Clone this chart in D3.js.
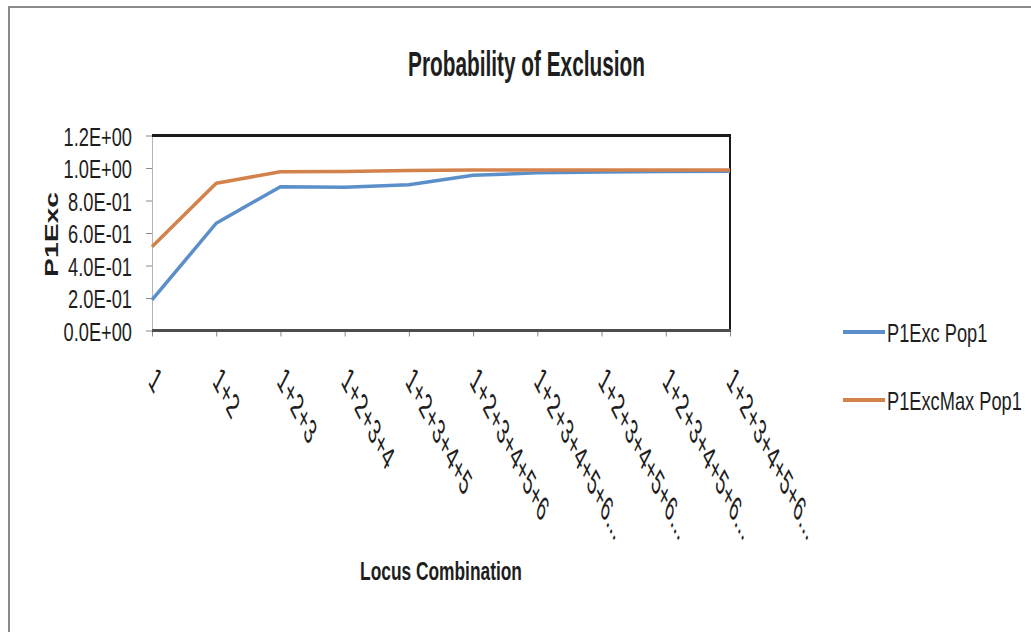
<!DOCTYPE html>
<html>
<head>
<meta charset="utf-8">
<script src="https://cdn.jsdelivr.net/npm/d3@7/dist/d3.min.js"></script>
<style>
  html, body { margin: 0; padding: 0; background: #fff; }
  svg { display: block; }
  text { font-family: "Liberation Sans", Arial, sans-serif; fill: #1e1e1e; }
</style>
</head>
<body>
<svg id="chart" width="1031" height="632"></svg>
<script>
// Locus combinations on the x axis
const categories = [
  "1", "1+2", "1+2+3", "1+2+3+4", "1+2+3+4+5", "1+2+3+4+5+6",
  "1+2+3+4+5+6...", "1+2+3+4+5+6...", "1+2+3+4+5+6...", "1+2+3+4+5+6..."
];
// Probability of exclusion per combination
const p1ExcPop1    = [0.188, 0.660, 0.885, 0.882, 0.897, 0.955, 0.970, 0.975, 0.978, 0.980];
const p1ExcMaxPop1 = [0.516, 0.906, 0.977, 0.979, 0.985, 0.987, 0.987, 0.987, 0.987, 0.987];

const yTickValues = [0, 0.2, 0.4, 0.6, 0.8, 1.0, 1.2];
const yTickLabels = ["0.0E+00", "2.0E-01", "4.0E-01", "6.0E-01", "8.0E-01", "1.0E+00", "1.2E+00"];

const seriesNames  = ["P1Exc Pop1", "P1ExcMax Pop1"];
const seriesColors = ["#5b8fc9", "#d4824c"];

const W = 1031, H = 632;
const plot = { left: 152, right: 730, top: 135.5, bottom: 330.5 };

const svg = d3.select("#chart");
svg.append("rect").attr("width", W).attr("height", H).attr("fill", "#fff");

// outer chart frame
svg.append("rect")
  .attr("x", 9).attr("y", 7).attr("width", W + 20).attr("height", H + 20)
  .attr("fill", "none").attr("stroke", "#8a8a8a").attr("stroke-width", 2);

const x = d3.scalePoint().domain(d3.range(categories.length)).range([plot.left, plot.right]);
const y = d3.scaleLinear().domain([0, 1.2]).range([plot.bottom, plot.top]);

// horizontal squeeze factor that makes a text node span a given width
function fitScale(sel, width) {
  return width / sel.node().getComputedTextLength();
}

// y axis
const yAxis = svg.append("g")
  .attr("transform", `translate(${plot.left},0)`)
  .call(d3.axisLeft(y).tickValues(yTickValues)
    .tickFormat((d, i) => yTickLabels[i]).tickSize(6).tickSizeOuter(0));
yAxis.select(".domain").attr("stroke", "#b5b5b5");
yAxis.selectAll(".tick line").attr("stroke", "#8a8a8a");
yAxis.selectAll(".tick text")
  .attr("x", null).attr("dy", null)
  .attr("font-size", 25).attr("text-anchor", "end")
  .attr("dominant-baseline", "central")
  .attr("fill", "#1e1e1e")
  .attr("transform", "translate(-20,1) scale(0.73,1)");

// x axis with slanted labels
const xAxis = svg.append("g")
  .attr("transform", `translate(0,${plot.bottom})`)
  .call(d3.axisBottom(x).tickFormat(i => categories[i]).tickSize(6).tickSizeOuter(0));
xAxis.select(".domain").remove();
xAxis.selectAll(".tick line").attr("stroke", "#8a8a8a");
xAxis.selectAll(".tick text")
  .attr("y", null).attr("dy", null)
  .attr("font-size", 19).attr("text-anchor", "start")
  .attr("dominant-baseline", "central")
  .attr("fill", "#1e1e1e")
  .attr("transform", "translate(0,43) scale(1,1.95) rotate(45) scale(0.86,1)");

// plot area frame
svg.append("line").attr("x1", plot.left).attr("x2", plot.right + 1)
  .attr("y1", plot.top).attr("y2", plot.top)
  .attr("stroke", "#1a1a1a").attr("stroke-width", 3);
svg.append("line").attr("x1", plot.right).attr("x2", plot.right)
  .attr("y1", plot.top).attr("y2", plot.bottom)
  .attr("stroke", "#1a1a1a").attr("stroke-width", 2);
svg.append("line").attr("x1", plot.left).attr("x2", plot.right + 1)
  .attr("y1", plot.bottom).attr("y2", plot.bottom)
  .attr("stroke", "#4d4d4d").attr("stroke-width", 3);

// series lines
const line = d3.line().x((d, i) => x(i)).y(d => y(d));
[p1ExcPop1, p1ExcMaxPop1].forEach((vals, k) => {
  svg.append("path")
    .datum(vals)
    .attr("d", line)
    .attr("fill", "none")
    .attr("stroke", seriesColors[k])
    .attr("stroke-width", 3.5)
    .attr("stroke-linejoin", "round");
});

// legend
const legendY = [332, 400];
seriesNames.forEach((name, k) => {
  svg.append("line")
    .attr("x1", 843).attr("x2", 885)
    .attr("y1", legendY[k]).attr("y2", legendY[k])
    .attr("stroke", seriesColors[k]).attr("stroke-width", 4);
  svg.append("text")
    .attr("font-size", 25)
    .attr("dominant-baseline", "central")
    .attr("transform", `translate(887,${legendY[k] + 1}) scale(0.73,1)`)
    .text(name);
});

// chart title
const title = svg.append("text")
  .attr("font-size", 35).attr("font-weight", 700)
  .attr("text-anchor", "middle")
  .text("Probability of Exclusion");
title.attr("transform", `translate(526.5,76) scale(${fitScale(title, 237)},1)`);

// x axis title
const xTitle = svg.append("text")
  .attr("font-size", 26).attr("font-weight", 700)
  .attr("text-anchor", "middle")
  .text("Locus Combination");
xTitle.attr("transform", `translate(441,580) scale(${fitScale(xTitle, 162)},1)`);

// y axis title
svg.append("text")
  .attr("font-size", 18).attr("font-weight", 700)
  .attr("text-anchor", "middle")
  .attr("dominant-baseline", "central")
  .attr("transform", "translate(52,234.5) rotate(-90) scale(1.57,1)")
  .text("P1Exc");
</script>
</body>
</html>
